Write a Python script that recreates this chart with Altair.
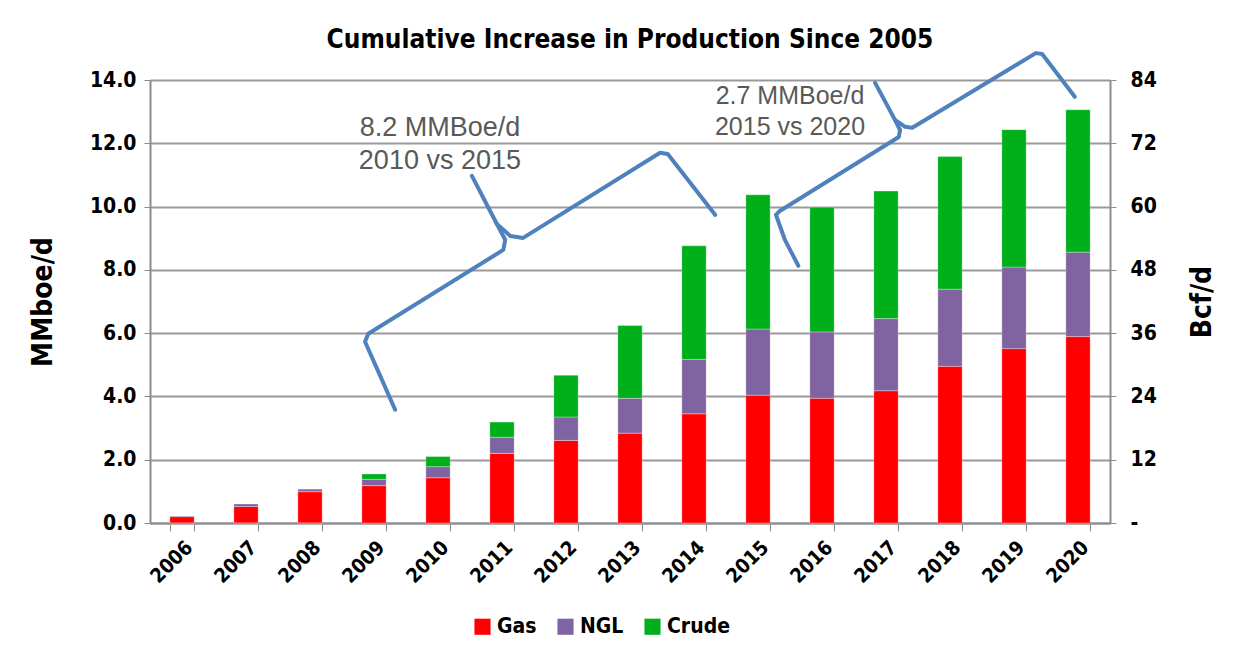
import altair as alt
import pandas as pd

years = list(range(2006, 2021))
gas = [0.20, 0.52, 0.99, 1.18, 1.43, 2.20, 2.61, 2.84, 3.45, 4.04, 3.94, 4.18, 4.95, 5.51, 5.89]
ngl = [0.02, 0.08, 0.08, 0.20, 0.35, 0.51, 0.74, 1.10, 1.72, 2.09, 2.10, 2.28, 2.44, 2.58, 2.67]
crude = [-0.03, -0.03, -0.03, 0.17, 0.32, 0.48, 1.32, 2.30, 3.59, 4.24, 3.94, 4.03, 4.19, 4.34, 4.50]
series = ["Gas", "NGL", "Crude"]
colors = ["#FF0000", "#8064A2", "#00B01A"]

# brace annotations (x in fractional years, y in MMboe/d)
brace1a_x = [2009.33, 2009.09, 2008.86, 2008.91, 2011.02, 2011.05, 2010.92, 2010.53]
brace1a_y = [3.58, 4.68, 5.73, 5.98, 8.63, 8.95, 9.45, 10.97]
brace1b_x = [2010.92, 2011.13, 2011.33, 2013.47, 2013.59, 2014.33]
brace1b_y = [9.45, 9.07, 9.01, 11.70, 11.66, 9.74]
brace2a_x = [2015.63, 2015.42, 2015.28, 2015.34, 2017.20, 2017.22, 2017.14, 2016.83]
brace2a_y = [8.13, 8.95, 9.74, 9.86, 12.20, 12.42, 12.74, 13.91]
brace2b_x = [2017.14, 2017.30, 2017.41, 2019.34, 2019.44, 2019.95]
brace2b_y = [12.74, 12.52, 12.49, 14.85, 14.82, 13.47]

note_text = ["8.2 MMBoe/d", "2010 vs 2015", "2.7 MMBoe/d", "2015 vs 2020"]
note_x = [2010.03, 2010.03, 2015.5, 2015.5]
note_y = [12.49, 11.44, 13.50, 12.52]
note_size = [27, 27, 25, 25]

FONT = "'Liberation Sans Narrow', 'DejaVu Sans Condensed', sans-serif"

rows = []
for i, yr in enumerate(years):
    for k, (name, vals) in enumerate(zip(series, [gas, ngl, crude])):
        rows.append({"year": str(yr), "series": name, "order": k, "value": vals[i]})
df = pd.DataFrame(rows)

tot = pd.DataFrame({"year": [str(y) for y in years],
                    "bcf": [6 * (g + n + c) for g, n, c in zip(gas, ngl, crude)]})

brows = []
for pid, (xs, ys) in enumerate([(brace1a_x, brace1a_y), (brace1b_x, brace1b_y),
                                (brace2a_x, brace2a_y), (brace2b_x, brace2b_y)]):
    for j, (xv, yv) in enumerate(zip(xs, ys)):
        brows.append({"path": pid, "idx": j, "x": xv, "y": yv})
bdf = pd.DataFrame(brows)
ndf = pd.DataFrame({"t": note_text, "x": note_x, "y": note_y, "s": note_size})

bars = alt.Chart(df).mark_bar(stroke="white", strokeWidth=0.5, strokeOpacity=0.6).encode(
    x=alt.X("year:N", scale=alt.Scale(paddingInner=0.62, paddingOuter=0.31),
            axis=alt.Axis(title=None, labelAngle=-45, labelFont=FONT, labelFontWeight="bold",
                          labelFontSize=20, labelColor="black", tickBand="extent", tickSize=8,
                          tickColor="#8c8c8c", domainColor="#8c8c8c", domainWidth=2,
                          labelPadding=6, grid=False)),
    y=alt.Y("value:Q", stack="zero", scale=alt.Scale(domain=[0, 14], nice=False),
            axis=alt.Axis(orient="left", values=[0, 2, 4, 6, 8, 10, 12, 14], format=".1f",
                          title="MMboe/d", titleFont=FONT, titleFontSize=28, titleFontWeight="bold",
                          titleColor="black", titlePadding=32,
                          labelFont=FONT, labelFontWeight="bold", labelFontSize=21,
                          labelColor="black", labelPadding=8,
                          grid=True, gridColor="#999999", gridWidth=2, domainColor="#8c8c8c",
                          domainWidth=2, tickColor="#8c8c8c", tickSize=6)),
    color=alt.Color("series:N", scale=alt.Scale(domain=series, range=colors),
                    legend=alt.Legend(title=None, orient="none", direction="horizontal",
                                      legendX=322, legendY=536, symbolType="square",
                                      symbolSize=260, symbolStrokeWidth=0, labelFont=FONT,
                                      labelFontSize=21, labelFontWeight="bold",
                                      labelColor="black", columnPadding=18, symbolOffset=0)),
    order=alt.Order("order:Q"),
)

right = alt.Chart(tot).mark_point(opacity=0).encode(
    y=alt.Y("bcf:Q", scale=alt.Scale(domain=[0, 84], nice=False),
            axis=alt.Axis(orient="right", values=[0, 12, 24, 36, 48, 60, 72, 84],
                          labelExpr="datum.value == 0 ? '-' : datum.label",
                          title="Bcf/d", titleFont=FONT, titleFontSize=28, titleFontWeight="bold",
                          titleColor="black", titlePadding=60, titleAngle=270,
                          labelFont=FONT, labelFontWeight="bold", labelFontSize=21,
                          labelColor="black", labelPadding=14, grid=False,
                          domainColor="#8c8c8c", domainWidth=2, tickColor="#8c8c8c", tickSize=6)),
)

braces = alt.Chart(bdf).mark_line(color="#4F81BD", strokeWidth=4, clip=False,
                                  strokeCap="round", strokeJoin="round").encode(
    x=alt.X("x:Q", scale=alt.Scale(domain=[2005.5, 2020.5], nice=False, zero=False), axis=None),
    y=alt.Y("y:Q", scale=alt.Scale(domain=[0, 14], nice=False), axis=None),
    detail="path:N",
    order="idx:Q",
)

notes = alt.Chart(ndf).mark_text(color="#595959", font="Liberation Sans").encode(
    x=alt.X("x:Q", scale=alt.Scale(domain=[2005.5, 2020.5], nice=False, zero=False), axis=None),
    y=alt.Y("y:Q", scale=alt.Scale(domain=[0, 14], nice=False), axis=None),
    text="t:N",
    size=alt.Size("s:Q", scale=None, legend=None),
)

chart = alt.layer(bars, right, braces, notes).resolve_scale(
    x="independent", y="independent"
).properties(
    width=960, height=443,
    title=alt.TitleParams("Cumulative Increase in Production Since 2005", font=FONT,
                          fontSize=26, fontWeight="bold", color="black", offset=-2,
                          anchor="middle"),
    autosize=alt.AutoSizeParams(type="none"),
    padding={"left": 142, "top": 72, "right": 129, "bottom": 130},
).configure_view(stroke=None).configure(background="white")

chart.save("out.html", embed_options={"renderer": "svg", "actions": False})
